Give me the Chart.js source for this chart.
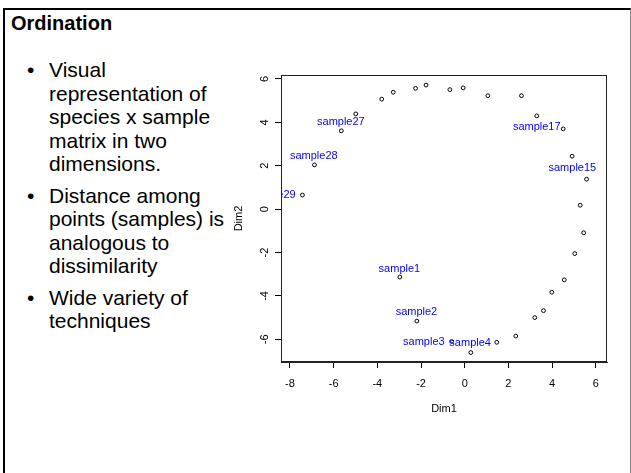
<!DOCTYPE html>
<html>
<head>
<meta charset="utf-8">
<script src="https://cdn.jsdelivr.net/npm/chart.js@4.4.1/dist/chart.umd.min.js"></script>
<style>
body { margin: 0; width: 631px; height: 473px; overflow: hidden; position: relative; background: #fff;
       font-family: "Liberation Sans", Arial, sans-serif; color: #000; }
#frame { position: absolute; left: 3px; top: 8px; width: 625px; height: 480px;
         border-top: 2px solid #000; border-left: 2px solid #000; border-right: 1px solid #888; }
#title { position: absolute; left: 11px; top: 12.6px; font-size: 20px; line-height: 20px; font-weight: bold; }
ul { position: absolute; left: 49px; top: 58px; margin: 0; padding: 0; list-style: none;
     font-size: 21px; line-height: 23.5px; white-space: nowrap; }
li { position: relative; margin-bottom: 8px; }
li::before { content: "\2022"; position: absolute; left: -22px; }
#chartBox { position: absolute; left: 225px; top: 60px; width: 400px; height: 380px; }
</style>
</head>
<body>
<div id="frame"></div>
<div id="title">Ordination</div>
<ul>
  <li>Visual<br>representation of<br>species x sample<br>matrix in two<br>dimensions.</li>
  <li>Distance among<br>points (samples) is<br>analogous to<br>dissimilarity</li>
  <li>Wide variety of<br>techniques</li>
</ul>
<div id="chartBox"><canvas id="ordChart" width="400" height="380"></canvas></div>
<script>
"use strict"

document.addEventListener("DOMContentLoaded", init);

// site scores, sample1 .. sample29
const dim1 = [-2.97, -2.19, -0.60, 0.28, 1.47, 2.34, 3.21, 3.61, 3.99, 4.56,
              5.04, 5.45, 5.29, 5.58, 4.92, 4.51, 3.30, 2.60, 1.06, -0.07,
              -0.68, -1.77, -2.25, -3.27, -3.80, -4.99, -5.65, -6.88, -7.43];
const dim2 = [-3.13, -5.16, -6.10, -6.61, -6.14, -5.85, -5.00, -4.68, -3.83, -3.26,
              -2.05, -1.09, 0.18, 1.38, 2.44, 3.70, 4.30, 5.23, 5.23, 5.59,
              5.51, 5.72, 5.57, 5.39, 5.07, 4.39, 3.61, 2.04, 0.65];

// text labels that were drawn on the plot
const labelNames = ["sample1", "sample2", "sample3", "sample4", "sample15",
                    "sample17", "sample27", "sample28", "sample29"];
const labelDim1 = [-2.99, -2.21, -1.87, 0.25, 4.93, 3.30, -5.67, -6.91, -8.83];
const labelDim2 = [-2.74, -4.75, -6.14, -6.18, 1.89, 3.78, 4.01, 2.47, 0.65];

const xTicks = [-8, -6, -4, -2, 0, 2, 4, 6];
const yTicks = [-6, -4, -2, 0, 2, 4, 6];

const boxPlugin = {
    id: "box",
    afterDatasetsDraw(chart) {
        const {ctx, chartArea} = chart;
        ctx.save();
        ctx.strokeStyle = "#222";
        ctx.lineWidth = 1;
        ctx.strokeRect(Math.round(chartArea.left) + 0.5, Math.round(chartArea.top) + 0.5,
                       Math.round(chartArea.width) - 1, Math.round(chartArea.height) - 1);
        ctx.restore();
    }
};

const labelPlugin = {
    id: "sampleLabels",
    afterDatasetsDraw(chart) {
        const {ctx, chartArea, scales} = chart;
        ctx.save();
        ctx.beginPath();
        ctx.rect(chartArea.left, chartArea.top, chartArea.width, chartArea.height);
        ctx.clip();
        ctx.font = "11px 'Liberation Sans', Arial, sans-serif";
        ctx.fillStyle = "#0000ff";
        ctx.textAlign = "center";
        ctx.textBaseline = "middle";
        for (let i = 0; i < labelNames.length; i++) {
            ctx.fillText(labelNames[i], scales.x.getPixelForValue(labelDim1[i]),
                         scales.y.getPixelForValue(labelDim2[i]));
        }
        ctx.restore();
    }
};

function init(){
    Chart.defaults.font.family = "'Liberation Sans', Arial, sans-serif";
    Chart.defaults.font.size = 11;
    Chart.defaults.color = "#000";

    const points = dim1.map((x, i) => ({x: x, y: dim2[i]}));
    const ctx = document.getElementById("ordChart").getContext("2d");
    const ordChart = new Chart(ctx, {
        type: "scatter",
        data: {
            datasets: [{
                label: "sites",
                data: points,
                pointRadius: 1.9,
                pointBorderWidth: 1,
                pointBorderColor: "#000",
                pointBackgroundColor: "rgba(0,0,0,0)"
            }]
        },
        options: {
            responsive: false,
            animation: false,
            events: [],
            layout: {padding: {left: 0, right: 18, top: 15, bottom: 0}},
            plugins: {legend: {display: false}, tooltip: {enabled: false}},
            scales: {
                x: {
                    type: "linear",
                    min: -8.412,
                    max: 6.517,
                    afterBuildTicks: s => { s.ticks = xTicks.map(v => ({value: v})); },
                    afterFit: s => { s.height = 78; },
                    ticks: {padding: 9, maxRotation: 0, color: "#000"},
                    grid: {drawOnChartArea: false, drawTicks: true, tickLength: 6, color: "#000"},
                    border: {display: true, color: "#222"},
                    title: {display: true, text: "Dim1", color: "#000", padding: {top: 0, bottom: 24}}
                },
                y: {
                    type: "linear",
                    min: -7.047,
                    max: 6.184,
                    afterBuildTicks: s => { s.ticks = yTicks.map(v => ({value: v})); },
                    afterFit: s => { s.width = 56; },
                    ticks: {padding: 5.5, minRotation: 90, maxRotation: 90, crossAlign: "center", color: "#000"},
                    grid: {drawOnChartArea: false, drawTicks: true, tickLength: 6, color: "#000"},
                    border: {display: true, color: "#222"},
                    title: {display: true, text: "Dim2", color: "#000", padding: {top: 7, bottom: 0}}
                }
            }
        },
        plugins: [boxPlugin, labelPlugin]
    });
}
</script>
</body>
</html>
